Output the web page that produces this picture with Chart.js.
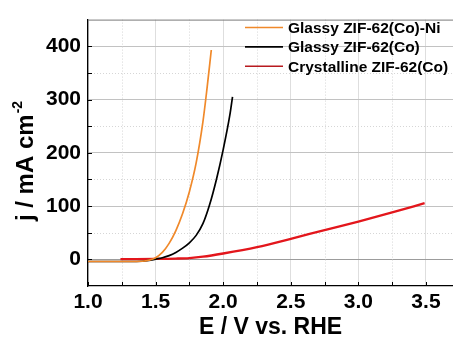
<!DOCTYPE html>
<html>
<head>
<meta charset="utf-8">
<script src="https://cdn.jsdelivr.net/npm/chart.js@4/dist/chart.umd.min.js"></script>
<style>
  html, body { margin: 0; padding: 0; background: #fff; }
</style>
</head>
<body>
<canvas id="lsvChart" width="453" height="338"></canvas>
<script>
// Dados das curvas de polarização (E em V vs. RHE, j em mA cm-2)
const eGlassyNi = [1.00, 1.10, 1.20, 1.30, 1.40, 1.45, 1.50, 1.55, 1.60, 1.65, 1.70, 1.75, 1.80, 1.85, 1.88, 1.912];
const jGlassyNi = [-4, -4, -4, -4, -3.5, -1.5, 3, 13, 30, 54, 86, 127, 181, 258, 320, 393];

const eGlassyCo = [1.00, 1.10, 1.20, 1.30, 1.40, 1.45, 1.50, 1.55, 1.60, 1.65, 1.70, 1.75, 1.80, 1.85, 1.90, 1.95, 2.00, 2.05, 2.069];
const jGlassyCo = [-4, -4, -4, -4, -3.5, -2, 0.5, 3, 7, 13, 21, 31, 45, 67, 103, 150, 206, 272, 305];

const eCrystCo = [1.24, 1.35, 1.50, 1.65, 1.75, 1.85, 2.00, 2.25, 2.50, 2.75, 3.00, 3.25, 3.49];
const jCrystCo = [0.5, 0.5, 0.8, 1.5, 2.5, 5, 11, 23, 38.5, 55, 71, 88, 105.5];

const seriesLabels = ['Glassy ZIF-62(Co)-Ni', 'Glassy ZIF-62(Co)', 'Crystalline ZIF-62(Co)'];

// Marcas dos eixos
const xTicks = [1.0, 1.5, 2.0, 2.5, 3.0, 3.5];
const xMinor = [1.25, 1.75, 2.25, 2.75, 3.25];
const yTicks = [0, 100, 200, 300, 400];
const yMinor = [50, 150, 250, 350];

const lineColors = ['#f0892a', '#000000', '#e3161c'];
const legendColors = ['#f0892a', '#000000', '#b81a1f'];

function toPoints(es, js) {
  return es.map((e, i) => ({ x: e, y: js[i] }));
}

const FONT = '"Liberation Sans", Arial, sans-serif';

// Grade secundária pontilhada, marcas internas, títulos e legenda
const extras = {
  id: 'extras',
  beforeDatasetsDraw(chart) {
    const { ctx, chartArea: a, scales: { x, y } } = chart;
    ctx.save();
    ctx.strokeStyle = '#d6d6d6';
    ctx.lineWidth = 1;
    ctx.setLineDash([1, 2]);
    xMinor.forEach(v => {
      const px = Math.round(x.getPixelForValue(v)) + 0.5;
      ctx.beginPath(); ctx.moveTo(px, a.top); ctx.lineTo(px, a.bottom); ctx.stroke();
    });
    yMinor.forEach(v => {
      const py = Math.round(y.getPixelForValue(v)) + 0.5;
      ctx.beginPath(); ctx.moveTo(a.left, py); ctx.lineTo(a.right, py); ctx.stroke();
    });
    ctx.restore();
  },
  afterDraw(chart) {
    const { ctx, chartArea: a, scales: { x, y } } = chart;
    ctx.save();

    // borda superior
    ctx.strokeStyle = '#7a7a7a';
    ctx.lineWidth = 1;
    ctx.beginPath(); ctx.moveTo(a.left, a.top + 0.5); ctx.lineTo(a.right, a.top + 0.5); ctx.stroke();

    // marcas internas
    ctx.strokeStyle = '#000';
    xTicks.concat(xMinor).forEach(v => {
      const px = Math.round(x.getPixelForValue(v)) + 0.5;
      ctx.beginPath(); ctx.moveTo(px, a.bottom); ctx.lineTo(px, a.bottom - 4); ctx.stroke();
    });
    yTicks.concat(yMinor).forEach(v => {
      const py = Math.round(y.getPixelForValue(v)) + 0.5;
      ctx.beginPath(); ctx.moveTo(a.left, py); ctx.lineTo(a.left + 4, py); ctx.stroke();
    });

    // títulos dos eixos
    ctx.fillStyle = '#000';
    ctx.textBaseline = 'alphabetic';
    ctx.font = 'bold 23px ' + FONT;
    ctx.textAlign = 'center';
    ctx.fillText('E / V vs. RHE', (a.left + a.right) / 2, 334);

    ctx.save();
    ctx.translate(33, 161);
    ctx.rotate(-Math.PI / 2);
    ctx.textAlign = 'left';
    const main = 'j / mA cm';
    const sup = '-2';
    ctx.font = 'bold 24px ' + FONT;
    const w1 = ctx.measureText(main).width;
    ctx.font = 'bold 14px ' + FONT;
    const w2 = ctx.measureText(sup).width;
    const start = -(w1 + w2 + 1) / 2;
    ctx.font = 'bold 24px ' + FONT;
    ctx.fillText(main, start, 0);
    ctx.font = 'bold 14px ' + FONT;
    ctx.fillText(sup, start + w1 + 1, -11);
    ctx.restore();

    // legenda
    ctx.font = 'bold 15.5px ' + FONT;
    ctx.textAlign = 'left';
    chart.data.datasets.forEach((ds, i) => {
      const base = 33 + i * 19.4;
      ctx.strokeStyle = legendColors[i];
      ctx.lineWidth = 1.6;
      ctx.beginPath(); ctx.moveTo(245, base - 5.5); ctx.lineTo(283, base - 5.5); ctx.stroke();
      ctx.fillStyle = '#000';
      ctx.fillText(ds.label, 288, base);
    });
    ctx.restore();
  }
};

new Chart(document.getElementById('lsvChart'), {
  type: 'line',
  data: {
    datasets: [
      { label: seriesLabels[0], data: toPoints(eGlassyNi, jGlassyNi), borderColor: lineColors[0], borderWidth: 1.7 },
      { label: seriesLabels[1], data: toPoints(eGlassyCo, jGlassyCo), borderColor: lineColors[1], borderWidth: 1.7 },
      { label: seriesLabels[2], data: toPoints(eCrystCo, jCrystCo), borderColor: lineColors[2], borderWidth: 2.3 },
    ],
  },
  options: {
    responsive: false,
    animation: false,
    devicePixelRatio: 1,
    layout: { padding: { top: 15, left: 0, right: 0, bottom: 0 } },
    elements: {
      point: { radius: 0 },
      line: { cubicInterpolationMode: 'monotone', fill: false },
    },
    plugins: {
      legend: { display: false },
      tooltip: { enabled: false },
    },
    scales: {
      x: {
        type: 'linear',
        min: 1.0,
        max: 3.7,
        afterBuildTicks: s => { s.ticks = xTicks.map(v => ({ value: v })); },
        afterFit: s => { s.height = 52; },
        ticks: {
          color: '#000',
          font: { family: FONT, size: 21, weight: 'bold' },
          padding: 4,
          maxRotation: 0,
          callback: v => Number(v).toFixed(1),
        },
        grid: { color: '#dedede', drawTicks: false },
        border: { color: '#000', width: 1.3 },
      },
      y: {
        min: -50,
        max: 450,
        afterBuildTicks: s => { s.ticks = yTicks.map(v => ({ value: v })); },
        afterFit: s => { s.width = 88; },
        ticks: {
          color: '#000',
          font: { family: FONT, size: 21, weight: 'bold' },
          padding: 7,
        },
        grid: {
          color: c => (c.tick && c.tick.value === 0 ? '#9c9c9c' : '#c2c2c2'),
          drawTicks: false,
        },
        border: { color: '#000', width: 1.3 },
      },
    },
  },
  plugins: [extras],
});
</script>
</body>
</html>
